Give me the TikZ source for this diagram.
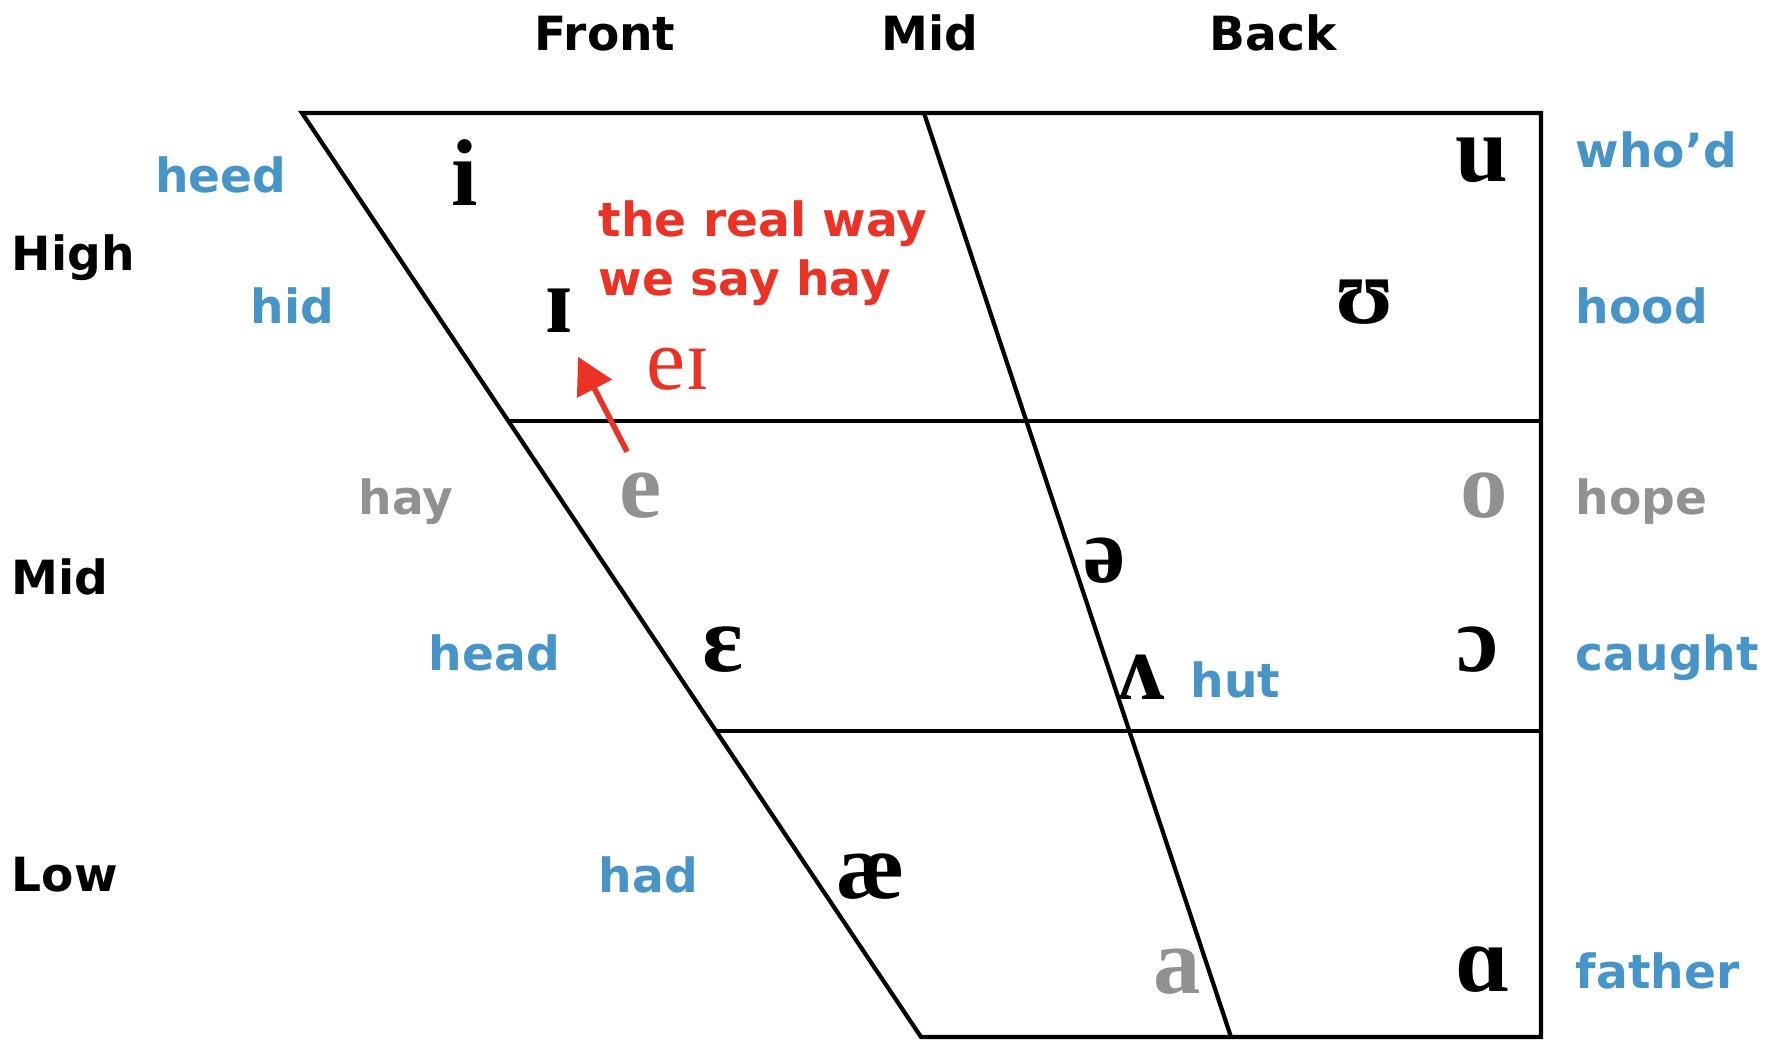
\documentclass[tikz,border=0pt]{standalone}
\usepackage{fontspec}
\setmainfont{DejaVu Sans}
\newfontfamily\ipafont{Liberation Serif}
\usetikzlibrary{arrows.meta}
\definecolor{wordblue}{RGB}{70,148,200}
\definecolor{hayred}{RGB}{236,50,36}
\definecolor{softgray}{RGB}{145,145,145}

\begin{document}
\begin{tikzpicture}[x=0.01cm,y=-0.01cm,lbl/.style={font=\fontsize{13.4}{16.8}\selectfont\bfseries,inner sep=0pt},word/.style={lbl,text=wordblue,anchor=base west},gword/.style={lbl,text=softgray,anchor=base west},ipa/.style={font=\ipafont\fontsize{27}{27}\selectfont\bfseries,inner sep=0pt,anchor=base},gipa/.style={ipa,text=softgray},frame/.style={line width=1.2pt,line join=miter},arrow/.style={hayred,line width=1.6pt,-{Triangle[length=0.36cm,width=0.38cm]}}]
\useasboundingbox (0,0) rectangle (1766,1040);
\coordinate (tl) at (302,113);\coordinate (tr) at (1541,113);\coordinate (br) at (1541,1037);\coordinate (bl) at (921,1037);
\coordinate (mt) at (924,113);\coordinate (mb) at (1231,1037);
\coordinate (h1) at (508,421);\coordinate (h1r) at (1541,421);
\coordinate (h2) at (716,731);\coordinate (h2r) at (1541,731);
\draw[frame] (tl) -- (tr) -- (br) -- (bl) -- cycle;
\draw[frame] (mt) -- (mb);\draw[frame] (h1) -- (h1r);\draw[frame] (h2) -- (h2r);
\node[lbl, anchor=base] (front) at (605,51) {Front};
\node[lbl, anchor=base] (central) at (930,51) {Mid};
\node[lbl, anchor=base] (back) at (1273,51) {Back};
\node[lbl, anchor=base west] (high) at (11,271) {High};
\node[lbl, anchor=base west] (middle) at (11,594) {Mid};
\node[lbl, anchor=base west] (low) at (11,891) {Low};
\node[word, anchor=base east] (heed) at (287,193) {heed};
\node[word] (hid) at (250,324) {hid};
\node[gword] (hay) at (358,515) {hay};
\node[word] (head) at (428,670) {head};
\node[word] (had) at (598,892) {had};
\node[word] (hut) at (1190,698) {hut};
\node[word] (whod) at (1575,168) {who’d};
\node[word] (hood) at (1575,324) {hood};
\node[gword] (hope) at (1575,515) {hope};
\node[word] (caught) at (1575,670) {caught};
\node[word] (father) at (1575,988) {father};
\node[ipa] (vi) at (465,206) {i};
\node[ipa] (vI) at (559,333) {ɪ};
\node[ipa] (vu) at (1482,182) {u};
\node[ipa] (vU) at (1365,324) {ʊ};
\node[gipa] (ve) at (641,518) {e};
\node[gipa] (vo) at (1484,518) {o};
\node[ipa] (vschwa) at (1105,583) {ə};
\node[ipa] (vE) at (723,672) {ɛ};
\node[ipa] (vV) at (1141,699) {ʌ};
\node[ipa] (vO) at (1478,672) {ɔ};
\node[ipa] (vae) at (871,898) {æ};
\node[gipa] (va) at (1177,993) {a};
\node[ipa] (vA) at (1483,991) {ɑ};
\node[lbl, text=hayred, align=left, anchor=north west] (note) at (598,200) {the real way\\we say hay};
\node[ipa, font=\ipafont\fontsize{25}{25}\selectfont, text=hayred, anchor=base west] (ei) at (646,390) {eɪ};
\draw[arrow] ([xshift=-0.14cm, yshift=0.21cm]ve.north) -- ([xshift=0.19cm, yshift=-0.23cm]vI.south);
\end{tikzpicture}
\end{document}
